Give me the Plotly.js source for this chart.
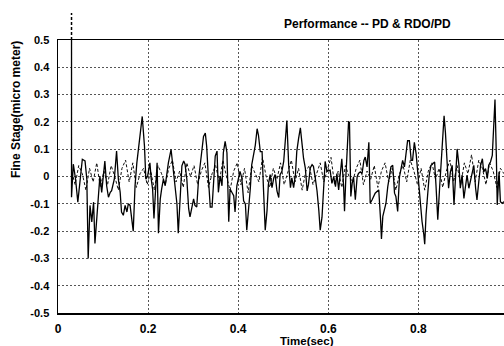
<!DOCTYPE html>
<html>
<head>
<meta charset="utf-8">
<script src="https://cdn.plot.ly/plotly-3.0.1.min.js"></script>
<style>html,body{margin:0;padding:0;background:#fff;}#chart{width:504px;height:346px;}</style>
</head>
<body>
<div id="chart"></div>
<script>
// Time axis (sec) and fine-stage error (micro meter) — PD controller (solid)
const pdTime = [0.030,0.030,0.034,0.039,0.044,0.049,0.054,0.060,0.064,0.067,0.071,0.075,0.079,0.082,0.086,0.090,0.093,0.097,0.101,0.104,0.108,0.112,0.116,0.119,0.125,0.130,0.134,0.138,0.141,0.145,0.149,0.153,0.156,0.160,0.167,0.171,0.175,0.179,0.182,0.187,0.192,0.195,0.199,0.204,
0.207,0.210,0.213,0.217,0.220,0.223,0.227,0.230,0.234,0.238,0.242,0.245,0.251,0.256,0.260,0.264,0.267,0.271,0.275,0.279,0.282,0.286,0.290,0.293,0.297,0.301,0.304,0.308,0.312,0.316,0.319,0.323,0.327,0.330,0.334,0.338,0.342,0.345,0.349,0.353,0.356,0.360,0.364,0.367,0.371,0.375,0.379,0.382,0.386,0.390,0.393,0.397,
0.404,0.408,0.412,0.416,0.419,0.423,0.427,0.430,0.434,0.438,0.442,0.445,0.449,0.453,0.456,0.460,0.464,0.467,0.471,0.475,0.479,0.482,0.486,0.490,0.493,0.497,0.501,0.504,0.508,0.512,0.516,0.519,0.523,0.527,0.530,0.534,0.538,0.542,0.545,0.549,0.553,0.556,0.560,0.564,0.567,0.571,0.575,0.579,0.582,0.586,0.590,0.593,0.597,
0.604,0.608,0.612,0.616,0.619,0.623,0.627,0.630,0.634,0.636,0.639,0.643,0.645,0.647,0.650,0.653,0.656,0.660,0.664,0.667,0.671,0.675,0.679,0.682,0.686,0.690,0.693,0.697,0.701,0.704,0.708,0.712,0.716,0.718,0.721,0.724,0.728,0.732,0.736,0.739,0.743,0.747,0.750,0.754,0.758,0.762,0.765,0.769,0.773,0.776,0.780,0.784,0.787,0.791,0.795,0.799,
0.801,0.804,0.808,0.812,0.814,0.817,0.821,0.824,0.828,0.832,0.836,0.839,0.843,0.847,0.850,0.854,0.857,0.860,0.864,0.867,0.871,0.875,0.879,0.882,0.886,0.890,0.893,0.897,0.901,0.904,0.908,0.912,0.916,0.919,0.923,0.927,0.930,0.934,0.938,0.942,0.945,0.949,0.953,0.956,0.960,0.964,0.967,0.970,0.973,0.975,0.979,0.982,0.986,0.990];
const pdValue = [0.95,-0.076,0.045,-0.010,-0.094,-0.010,0.063,0.057,-0.010,-0.300,-0.106,-0.166,-0.094,-0.245,-0.154,-0.046,0.002,-0.058,0.014,0.057,-0.034,-0.076,-0.058,-0.052,-0.010,0.093,-0.010,-0.058,-0.130,-0.142,-0.106,-0.130,-0.100,-0.106,-0.200,-0.034,0.050,0.110,0.170,0.220,0.110,-0.010,0.002,0.050,
-0.010,-0.046,-0.154,-0.046,0.050,-0.208,-0.082,-0.046,-0.010,-0.034,0.014,0.050,0.099,0.014,-0.046,-0.100,-0.208,-0.070,0.039,0.057,0.045,-0.010,-0.118,-0.148,-0.118,-0.082,-0.106,-0.112,-0.010,0.050,0.099,0.147,0.159,0.111,-0.010,-0.112,-0.112,-0.010,0.075,0.093,-0.058,0.002,-0.034,0.087,0.129,0.087,-0.166,-0.046,-0.058,-0.070,-0.130,-0.034,
0.019,-0.005,-0.089,-0.101,-0.197,-0.125,-0.041,0.043,0.079,0.115,0.175,0.151,0.091,0.091,-0.041,-0.197,-0.125,-0.029,0.007,-0.041,-0.005,0.007,-0.053,-0.077,0.007,0.019,0.055,0.115,0.205,0.043,-0.041,-0.005,-0.041,0.007,0.091,0.139,0.178,0.115,0.067,0.031,-0.053,-0.029,0.031,0.043,0.037,-0.005,-0.053,-0.125,-0.197,-0.149,-0.005,0.055,0.019,
0.023,-0.025,-0.001,-0.037,0.011,-0.049,0.011,0.065,-0.037,-0.127,-0.001,0.167,0.200,0.198,-0.073,-0.025,-0.001,-0.085,-0.001,0.011,0.017,0.011,0.059,0.071,0.035,0.125,-0.098,-0.086,-0.073,-0.061,-0.055,-0.049,-0.158,-0.229,-0.146,-0.122,-0.098,-0.037,0.011,0.035,0.041,-0.061,-0.073,-0.128,-0.001,0.035,0.059,0.035,0.095,0.131,0.131,0.059,0.059,0.125,0.083,-0.001,
-0.043,-0.092,-0.164,-0.212,-0.248,-0.140,-0.067,0.005,0.041,0.047,0.053,-0.031,-0.158,-0.043,0.041,0.137,0.222,0.161,0.053,-0.043,0.017,0.041,-0.104,0.005,0.101,0.041,-0.043,0.005,-0.080,-0.043,0.005,-0.043,-0.007,0.017,0.041,-0.043,-0.086,-0.019,0.041,0.065,0.017,0.029,-0.007,0.041,0.053,0.077,0.173,0.282,0.077,-0.104,0.017,-0.092,-0.098,-0.092];

// RDO/PD controller (dashed)
const rdoTime = [0.030,0.030,0.038,0.046,0.054,0.062,0.070,0.078,0.086,0.094,0.102,0.110,0.118,0.126,0.134,0.142,0.150,0.158,0.166,0.174,0.182,0.190,0.198,0.206,0.214,0.222,0.230,0.238,0.246,0.254,0.262,0.270,0.278,0.286,0.294,0.302,0.310,0.318,0.326,0.334,0.342,0.350,0.358,0.366,0.374,0.382,0.390,0.398,0.406,0.414,0.422,0.430,0.438,0.446,0.454,0.462,0.470,0.478,0.486,0.494,0.502,0.510,0.518,0.526,0.534,0.542,0.550,0.558,0.566,0.574,0.582,0.590,0.598,0.606,0.614,0.622,0.630,0.638,0.646,0.654,0.662,0.670,0.678,0.686,0.694,0.702,0.710,0.718,0.726,0.734,0.742,0.750,0.758,0.766,0.774,0.782,0.790,0.798,0.806,0.814,0.822,0.830,0.838,0.846,0.854,0.862,0.870,0.878,0.886,0.894,0.902,0.910,0.918,0.926,0.934,0.942,0.950,0.958,0.966,0.974,0.982,0.990];
const rdoValue = [0.95,0.02,-0.03,0.04,0.01,-0.05,0.03,-0.02,0.05,-0.04,0.02,-0.03,0.04,0.00,-0.05,0.03,0.06,-0.02,0.05,-0.04,0.01,0.03,-0.03,0.02,-0.05,0.04,0.01,-0.03,0.03,0.06,-0.02,0.02,-0.04,0.05,0.00,0.04,-0.03,0.02,0.05,-0.04,0.01,0.04,-0.02,0.06,0.00,-0.05,0.02,0.05,-0.03,0.03,-0.06,0.04,0.01,-0.02,0.07,0.00,-0.04,0.03,-0.01,0.05,-0.03,0.02,0.06,-0.02,0.03,-0.05,0.02,0.04,-0.03,0.01,0.05,-0.02,0.03,0.07,-0.03,0.02,-0.04,0.04,0.00,-0.02,0.03,0.06,-0.03,0.02,-0.01,0.04,-0.04,0.02,0.05,-0.02,0.03,-0.05,0.01,0.04,-0.02,0.06,0.02,-0.03,0.03,-0.05,0.02,0.05,-0.01,0.03,-0.04,0.02,0.06,-0.02,0.04,-0.03,0.05,0.01,0.08,-0.02,0.06,0.03,-0.03,0.05,0.02,-0.04,0.03,0.01];

const xTickVals = [0, 0.2, 0.4, 0.6, 0.8];
const xTickText = ['0', '0.2', '0.4', '0.6', '0.8'];
const yTickVals = [-0.5, -0.4, -0.3, -0.2, -0.1, 0, 0.1, 0.2, 0.3, 0.4, 0.5];
const yTickText = ['-0.5', '-0.4', '-0.3', '-0.2', '-0.1', '0', '0.1', '0.2', '0.3', '0.4', '0.5'];

const chartTitle = 'Performance -- PD & RDO/PD';
const xTitle = 'Time(sec)';
const yTitle = 'Fine Stage(micro meter)';

const FONT = 'Liberation Sans, Arial, sans-serif';

const traces = [
  { x: rdoTime, y: rdoValue, type: 'scatter', mode: 'lines', name: 'RDO/PD',
    line: { color: '#111', width: 1, dash: '3px,2px' }, hoverinfo: 'skip' },
  { x: pdTime, y: pdValue, type: 'scatter', mode: 'lines', name: 'PD',
    line: { color: '#000', width: 1.3 }, hoverinfo: 'skip' }
];

const layout = {
  width: 504, height: 346,
  margin: { l: 58, r: 0, t: 40, b: 33 },
  paper_bgcolor: '#fff', plot_bgcolor: '#fff',
  showlegend: false,
  font: { family: FONT, color: '#000' },
  xaxis: {
    range: [0, 0.99], tickmode: 'array', tickvals: xTickVals, ticktext: xTickText,
    showgrid: true, gridcolor: '#555', griddash: '2px,2px', gridwidth: 1,
    zeroline: false, showline: true, linecolor: '#000', linewidth: 1.5, mirror: true,
    ticks: '', ticklabelstandoff: 4,
    tickfont: { family: FONT, size: 12, color: '#000', weight: 'bold' }
  },
  yaxis: {
    range: [-0.5, 0.5], tickmode: 'array', tickvals: yTickVals, ticktext: yTickText,
    showgrid: true, gridcolor: '#555', griddash: '2px,2px', gridwidth: 1,
    zeroline: false, showline: true, linecolor: '#000', linewidth: 1.5,
    ticks: '', ticklabelstandoff: 5,
    tickfont: { family: FONT, size: 11, color: '#000', weight: 'bold' }
  },
  shapes: [
    { type: 'line', xref: 'x', yref: 'paper', x0: pdTime[0], x1: pdTime[0], y0: 1, y1: 1.099,
      line: { color: '#000', width: 1.5, dash: '3px,2px' } }
  ],
  annotations: [
    { text: chartTitle, xref: 'paper', yref: 'paper', x: 0.695, y: 1.0586,
      xanchor: 'center', yanchor: 'middle', showarrow: false,
      font: { family: FONT, size: 12, color: '#000', weight: 'bold' } },
    { text: xTitle, xref: 'paper', yref: 'paper', x: 0.558, y: -0.104,
      xanchor: 'center', yanchor: 'middle', showarrow: false,
      font: { family: FONT, size: 11.5, color: '#000', weight: 'bold' } },
    { text: yTitle, xref: 'paper', yref: 'paper', x: -0.094, y: 0.7436, textangle: -90,
      xanchor: 'center', yanchor: 'middle', showarrow: false,
      font: { family: FONT, size: 12, color: '#000', weight: 'bold' } }
  ]
};

Plotly.newPlot('chart', traces, layout, { staticPlot: true, displayModeBar: false });
</script>
</body>
</html>
